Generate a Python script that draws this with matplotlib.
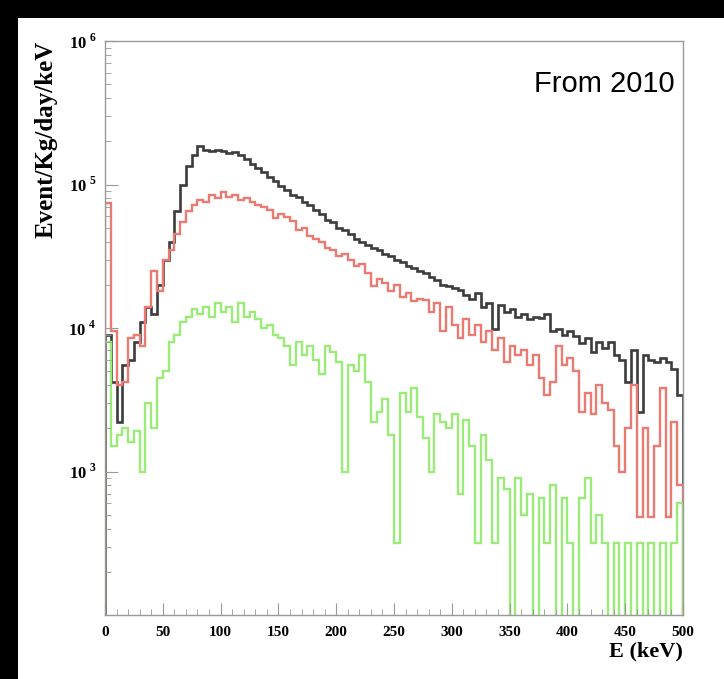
import numpy as np
import matplotlib
matplotlib.use('Agg')
import matplotlib.pyplot as plt
from matplotlib.patches import Rectangle
from matplotlib.ticker import MultipleLocator, LogLocator, NullFormatter

plt.rcParams['mathtext.fontset'] = 'custom'
plt.rcParams['mathtext.rm'] = 'Liberation Serif'
plt.rcParams['mathtext.bf'] = 'Liberation Serif:bold'

# 5 keV bins from 0 to 500 keV
edges = np.arange(0, 505, 5)

total = [
    9000, 4200, 2200, 5500, 6000, 8000, 11000, 14000, 12500, 20000,
    30000, 40000, 65000, 100000, 135000, 160000, 185000, 175000, 170000, 175000,
    170000, 165000, 168000, 160000, 150000, 140000, 130000, 122000, 112000, 105000,
    98000, 92000, 85000, 82000, 75000, 72000, 66000, 62000, 57000, 55000,
    50000, 48000, 45000, 42000, 40000, 38000, 36000, 35000, 33000, 32000,
    30000, 29000, 27000, 26000, 25000, 24000, 22500, 21500, 20000, 19500,
    19000, 18500, 17000, 16000, 17500, 14000, 15000, 9800, 14500, 13000,
    13500, 12000, 12500, 11500, 12000, 11800, 12500, 9500, 9800, 9000,
    9500, 8800, 7800, 8500, 6800, 8000, 7200, 8000, 6500, 6000,
    4200, 7000, 2600, 6500, 6000, 5800, 6200, 5800, 5200, 3400,
]

red = [
    74000, 9500, 4000, 4200, 8500, 9000, 7500, 14000, 25000, 18000,
    30000, 35000, 45000, 55000, 65000, 72000, 78000, 75000, 85000, 80000,
    88000, 82000, 85000, 78000, 80000, 76000, 72000, 70000, 66000, 58000,
    62000, 59000, 56000, 48000, 50000, 44000, 42000, 40000, 36000, 35000,
    32000, 33000, 30000, 27000, 28000, 24000, 19500, 22000, 20500, 18000,
    20000, 16500, 17500, 15500, 16000, 15700, 13000, 15000, 9500, 14000,
    10500, 8500, 11500, 9000, 10500, 8000, 9500, 7000, 8500, 5800,
    7500, 6500, 7000, 5500, 6500, 4500, 3400, 4200, 7500, 5500,
    6200, 5000, 2600, 3500, 2500, 4000, 3000, 2700, 1500, 1000,
    2000, 4000, 480, 2000, 480, 1500, 3800, 480, 2200, 800,
]

green = [
    8000, 1500, 1800, 2000, 1600, 1900, 1000, 3000, 2000, 4500,
    5000, 8000, 9000, 11000, 12000, 13500, 12500, 14000, 12000, 15000,
    13000, 14000, 11000, 15000, 12000, 13000, 11500, 10000, 10500, 9000,
    8500, 7500, 5500, 8000, 6500, 7500, 6000, 4800, 7500, 6800,
    5800, 1000, 5500, 5000, 6500, 4200, 2200, 2600, 3200, 1800,
    320, 3500, 2600, 3800, 2400, 1700, 1000, 2500, 2200, 2000,
    2500, 700, 2300, 1500, 320, 1800, 1200, 320, 900, 750,
    0, 900, 500, 700, 0, 650, 320, 800, 0, 650,
    320, 0, 650, 900, 320, 500, 320, 0, 320, 0,
    320, 0, 320, 0, 320, 0, 320, 0, 320, 600,
]

W, H = 724, 679
fig = plt.figure(figsize=(W / 100, H / 100), dpi=100)
fig.patch.set_facecolor('black')
fig.add_artist(Rectangle((18 / W, 0), 1, 1 - 18 / H, transform=fig.transFigure,
                         facecolor='white', edgecolor='none', zorder=0))

ax = fig.add_axes([105 / W, 1 - 615 / H, (683 - 105) / W, (615 - 41) / H])

for vals, col, lw in [(total, '#3c3c3c', 1.9), (red, '#ec7a70', 1.7), (green, '#9beb78', 1.7)]:
    v = np.clip(np.array(vals, dtype=float), 1, None)
    ax.stairs(v, edges, color=col, lw=lw, baseline=1)

ax.set_yscale('log')
ax.set_xlim(0, 500)
ax.set_ylim(100, 1e6)

for s in ax.spines.values():
    s.set_color('#999999')
    s.set_linewidth(1.0)

ax.xaxis.set_minor_locator(MultipleLocator(10))
ax.set_xticks(range(0, 501, 50))
ax.set_xticklabels([str(v) for v in range(0, 501, 50)],
                   fontfamily='Liberation Serif', fontweight='bold', fontsize=11)

ax.set_yticks([1e3, 1e4, 1e5, 1e6])
ax.set_yticklabels([r'$\mathbf{10}^{\ \mathbf{%d}}$' % k for k in (3, 4, 5, 6)], fontsize=12)
ax.yaxis.set_minor_locator(LogLocator(base=10, subs=np.arange(2, 10)))
ax.yaxis.set_minor_formatter(NullFormatter())

ax.tick_params(axis='both', which='both', direction='in', colors='#999999',
               labelcolor='black', top=False, right=False)
ax.tick_params(axis='x', which='major', length=9, pad=8)
ax.tick_params(axis='x', which='minor', length=4)
ax.tick_params(axis='y', which='major', length=9, pad=6)
ax.tick_params(axis='y', which='minor', length=4)

ax.set_xlabel('E (keV)', fontfamily='Liberation Serif', fontweight='bold',
              fontsize=16, loc='right', labelpad=2)
ax.set_ylabel('Event/Kg/day/keV', fontfamily='Liberation Serif', fontweight='bold',
              fontsize=18, loc='top', labelpad=8)

ax.text(0.985, 0.95, 'From 2010', transform=ax.transAxes, ha='right', va='top',
        fontfamily='Liberation Sans', fontsize=21)

fig.savefig('out.png', dpi=100, facecolor=fig.get_facecolor())
